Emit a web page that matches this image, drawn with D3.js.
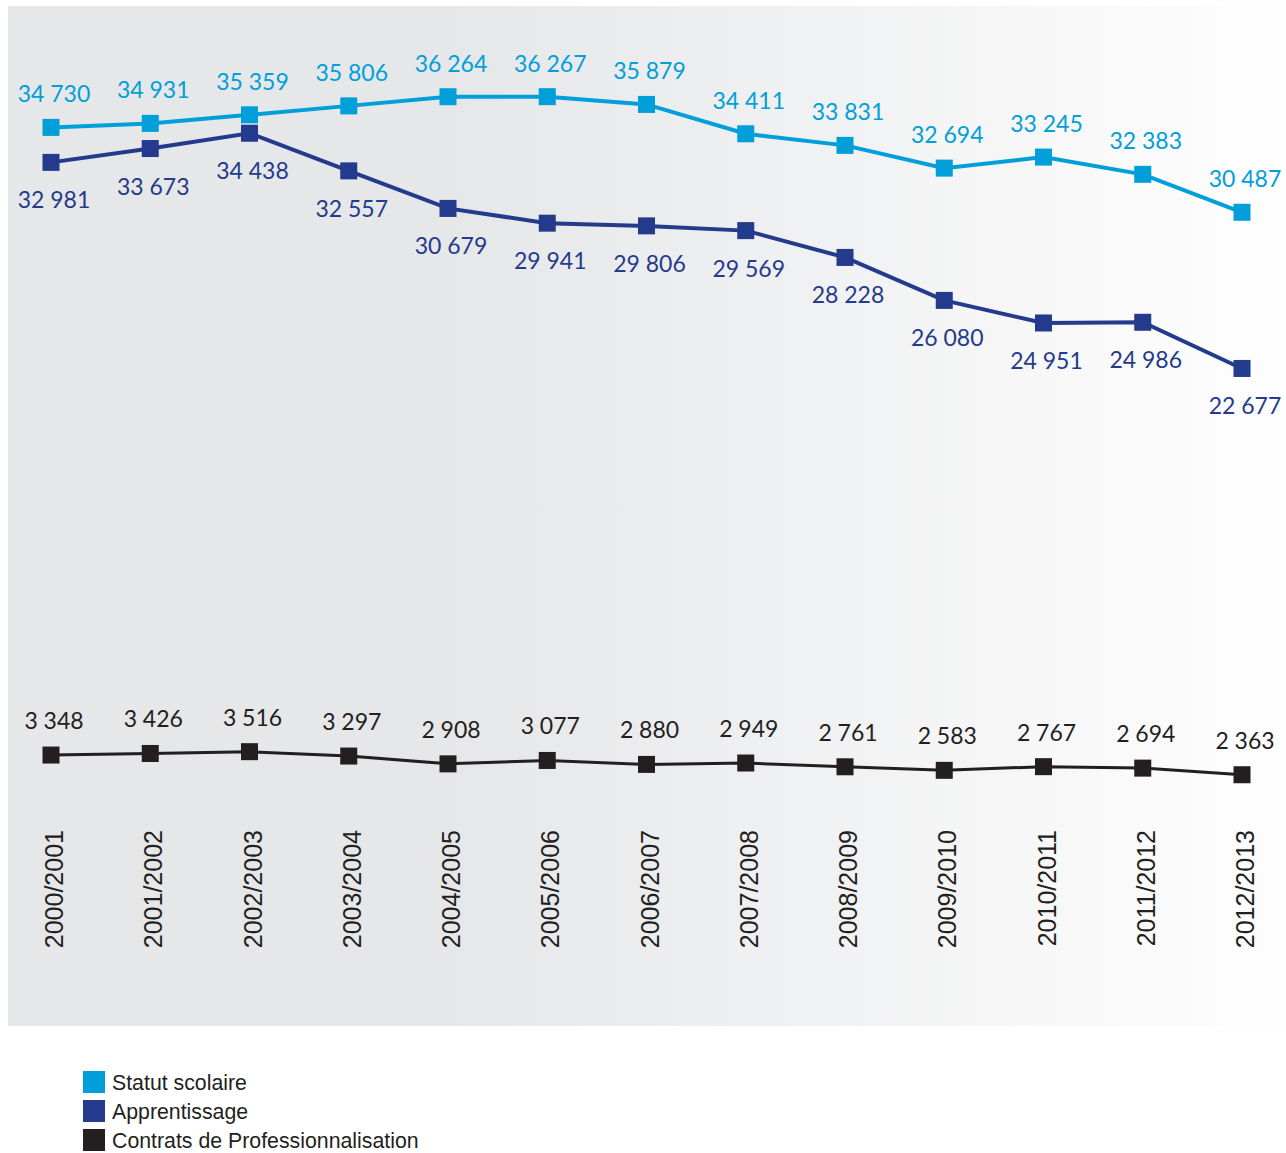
<!DOCTYPE html>
<html lang="fr">
  <head>
    <meta charset="UTF-8" />
    <title>Effectifs par voie de formation</title>
    <script src="https://d3js.org/d3.v7.min.js"></script>
    <style>
      body {
        margin: 0;
        padding: 0;
        background: #fff;
      }
      svg {
        display: block;
      }
      .value-label {
        font-family: Lato, "Open Sans", sans-serif;
        font-size: 23px;
        text-anchor: middle;
      }
      .year-label {
        font-family: "Liberation Sans", Arial, sans-serif;
        font-size: 25px;
        fill: #231f20;
      }
      .legend-label {
        font-family: "Liberation Sans", Arial, sans-serif;
        font-size: 21.3px;
        fill: #231f20;
      }
    </style>
  </head>
  <body>
    <svg width="1286" height="1153"></svg>
    <script>
      const years = [
        "2000/2001", "2001/2002", "2002/2003", "2003/2004", "2004/2005",
        "2005/2006", "2006/2007", "2007/2008", "2008/2009", "2009/2010",
        "2010/2011", "2011/2012", "2012/2013",
      ];
      const statutScolaire = [
        34730, 34931, 35359, 35806, 36264, 36267, 35879, 34411, 33831, 32694,
        33245, 32383, 30487,
      ];
      const apprentissage = [
        32981, 33673, 34438, 32557, 30679, 29941, 29806, 29569, 28228, 26080,
        24951, 24986, 22677,
      ];
      const contratsPro = [
        3348, 3426, 3516, 3297, 2908, 3077, 2880, 2949, 2761, 2583, 2767, 2694,
        2363,
      ];
      const seriesNames = [
        "Statut scolaire",
        "Apprentissage",
        "Contrats de Professionnalisation",
      ];

      const width = 1286,
        height = 1153;
      const svg = d3.select("svg");

      const colors = ["#009fda", "#243a8c", "#231f20"];
      const labelDy = [-25, 46, -26];
      const lineWidth = [4, 4, 3];

      const series = [statutScolaire, apprentissage, contratsPro].map(
        (values, i) => ({
          name: seriesNames[i],
          color: colors[i],
          points: values.map((v, j) => ({ year: years[j], value: v })),
        })
      );

      // background panel, grey fading to white on the right
      const grad = svg
        .append("defs")
        .append("linearGradient")
        .attr("id", "bg")
        .attr("x1", "0%")
        .attr("x2", "100%");
      grad.append("stop").attr("offset", "0%").attr("stop-color", "#e6e7e9");
      grad.append("stop").attr("offset", "35%").attr("stop-color", "#e6e7e9");
      grad.append("stop").attr("offset", "100%").attr("stop-color", "#fefefe");
      svg
        .append("rect")
        .attr("x", 8)
        .attr("y", 6)
        .attr("width", width - 8)
        .attr("height", 1020)
        .attr("fill", "url(#bg)");

      const x = d3.scalePoint().domain(years).range([51, 1242]);
      const y = d3.scaleLinear().domain([0, 40000]).range([822, 22]);

      const line = d3
        .line()
        .x((d) => x(d.year))
        .y((d) => y(d.value));

      const fmt = (v) => d3.format(",")(v).replace(",", " ");

      series.forEach((s, i) => {
        const g = svg.append("g");
        g.append("path")
          .datum(s.points)
          .attr("d", line)
          .attr("fill", "none")
          .attr("stroke", s.color)
          .attr("stroke-width", lineWidth[i]);
        g.selectAll("rect")
          .data(s.points)
          .join("rect")
          .attr("x", (d) => x(d.year) - 8.5)
          .attr("y", (d) => y(d.value) - 8.5)
          .attr("width", 17)
          .attr("height", 17)
          .attr("fill", s.color);
        g.selectAll("text")
          .data(s.points)
          .join("text")
          .attr("class", "value-label")
          .attr("x", (d) => x(d.year) + 3)
          .attr("y", (d) => y(d.value) + labelDy[i])
          .attr("fill", s.color)
          .text((d) => fmt(d.value));
      });

      // rotated year labels
      svg
        .append("g")
        .selectAll("text")
        .data(years)
        .join("text")
        .attr("class", "year-label")
        .attr("text-anchor", "end")
        .attr(
          "transform",
          (d) => `translate(${x(d) + 12},830) rotate(-90)`
        )
        .text((d) => d);

      // legend
      const legend = svg
        .append("g")
        .selectAll("g")
        .data(series)
        .join("g")
        .attr("transform", (d, i) => `translate(83,${1071 + i * 29})`);
      legend
        .append("rect")
        .attr("width", 22)
        .attr("height", 22)
        .attr("fill", (d) => d.color);
      legend
        .append("text")
        .attr("class", "legend-label")
        .attr("x", 29)
        .attr("y", 19)
        .text((d) => d.name);
    </script>
  </body>
</html>
